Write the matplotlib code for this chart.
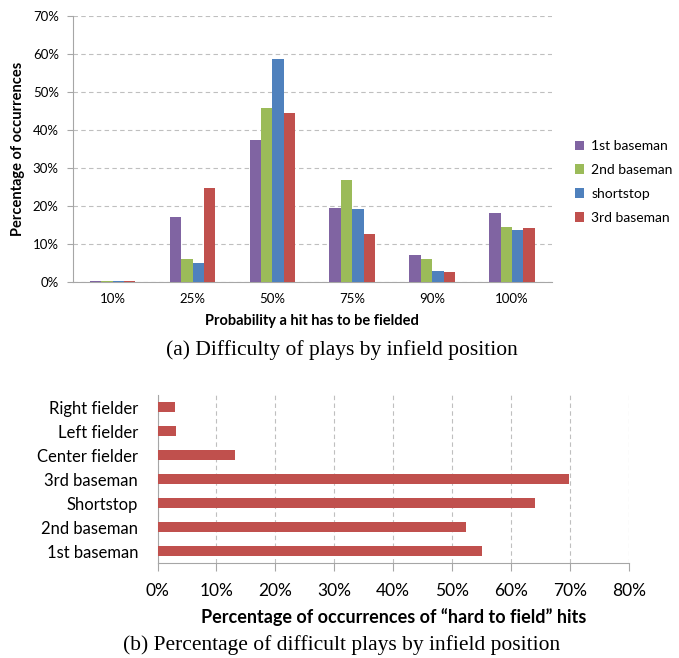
import matplotlib
matplotlib.use("Agg")
import matplotlib.pyplot as plt
import numpy as np

# ---- data: top chart ----
prob_labels = ["10%", "25%", "50%", "75%", "90%", "100%"]
series_names = ["1st baseman", "2nd baseman", "shortstop", "3rd baseman"]
first_base = [0.3, 17.2, 37.4, 19.4, 7.0, 18.1]
second_base = [0.3, 6.1, 45.7, 26.8, 6.1, 14.6]
shortstop = [0.3, 5.1, 58.6, 19.1, 2.9, 13.6]
third_base = [0.3, 24.8, 44.6, 12.7, 2.7, 14.3]
series_colors = ["#8064A2", "#9BBB59", "#4F81BD", "#C0504D"]

# ---- data: bottom chart ----
positions = ["1st baseman", "2nd baseman", "Shortstop", "3rd baseman",
             "Center fielder", "Left fielder", "Right fielder"]
hard_pct = [55.1, 52.3, 64.1, 69.8, 13.1, 3.2, 3.0]

W, H = 679, 658
fig = plt.figure(figsize=(W / 100, H / 100), dpi=100)
FONT = "Lato"
grid_c = "#BFBFBF"
spine_c = "#A6A6A6"

# ---------------- top chart ----------------
ax1 = fig.add_axes([72.7 / W, 1 - 282 / H, (552 - 72.7) / W, (282 - 16) / H])
x = np.arange(len(prob_labels))
bw = 0.143
all_series = [first_base, second_base, shortstop, third_base]
for i, (vals, name, col) in enumerate(zip(all_series, series_names, series_colors)):
    ax1.bar(x + (i - 1.5) * bw, vals, width=bw, color=col, label=name,
            edgecolor="none", zorder=3)
ax1.set_xlim(-0.5, len(prob_labels) - 0.5)
ax1.set_ylim(0, 70)
ax1.set_yticks(np.arange(0, 71, 10))
ax1.set_yticklabels([f"{v}%" for v in range(0, 71, 10)], fontsize=9.5, family=FONT)
ax1.set_xticks(x)
ax1.set_xticklabels(prob_labels, fontsize=9.5, family=FONT)
ax1.tick_params(axis="x", length=0, pad=8)
ax1.tick_params(axis="y", length=4, direction="out", color=spine_c, pad=6)
ax1.yaxis.grid(True, linestyle=(0, (4, 3)), color=grid_c, linewidth=0.8, zorder=0)
ax1.set_axisbelow(True)
for s in ["top", "right"]:
    ax1.spines[s].set_visible(False)
for s in ["left", "bottom"]:
    ax1.spines[s].set_color(spine_c)
ax1.set_ylabel("Percentage of occurrences", fontsize=10.5, fontweight="bold", family=FONT)
ax1.yaxis.set_label_coords((25 - 72.7) / 479.3, 0.5)
ax1.set_xlabel("Probability a hit has to be fielded", fontsize=10.5, fontweight="bold", family=FONT)
ax1.xaxis.set_label_coords((311.5 - 72.7) / 479.3, (282 - 314) / 266)
leg = ax1.legend(loc="center left", bbox_to_anchor=(562 / W, 1 - 182 / H),
                 bbox_transform=fig.transFigure, frameon=False,
                 prop={"family": FONT, "size": 10}, handlelength=0.7,
                 handleheight=0.7, handletextpad=0.5, labelspacing=0.85)

fig.text(342 / W, 1 - 355 / H, "(a) Difficulty of plays by infield position",
         ha="center", va="baseline", fontsize=15.5, family="Liberation Serif")

# ---------------- bottom chart ----------------
ax2 = fig.add_axes([157.5 / W, 1 - 563.3 / H, (628.7 - 157.5) / W, (563.3 - 395) / H])
y = np.arange(len(positions))
ax2.barh(y, hard_pct, height=0.4, color="#C0504D", edgecolor="none", zorder=3)
ax2.set_ylim(-0.5, len(positions) - 0.5)
ax2.set_xlim(0, 80)
ax2.set_xticks(np.arange(0, 81, 10))
ax2.set_xticklabels([f"{v}%" for v in range(0, 81, 10)], fontsize=12.5, family=FONT)
ax2.set_yticks(y)
ax2.set_yticklabels(positions, fontsize=12, family=FONT)
ax2.tick_params(axis="y", length=0, pad=14)
ax2.tick_params(axis="x", length=6, direction="out", color=spine_c, pad=8)
ax2.xaxis.grid(True, linestyle=(0, (4, 3)), color=grid_c, linewidth=0.8, zorder=0)
ax2.set_axisbelow(True)
for s in ["top", "right"]:
    ax2.spines[s].set_visible(False)
for s in ["left", "bottom"]:
    ax2.spines[s].set_color(spine_c)
ax2.set_xlabel("Percentage of occurrences of \u201chard to field\u201d hits",
               fontsize=13, fontweight="bold", family=FONT)
ax2.xaxis.set_label_coords((394 - 157.5) / 471.2, (563.3 - 608) / 168.3)

fig.text(342 / W, 1 - 650 / H, "(b) Percentage of difficult plays by infield position",
         ha="center", va="baseline", fontsize=15.5, family="Liberation Serif")

fig.savefig("out.png", dpi=100)
